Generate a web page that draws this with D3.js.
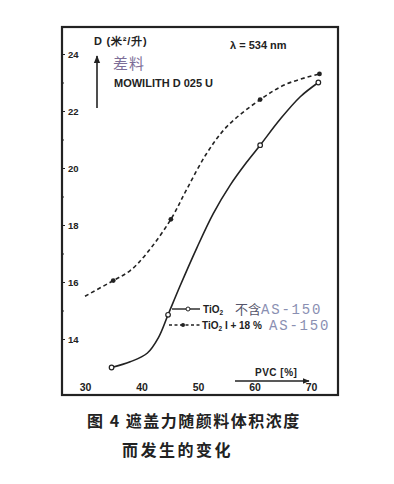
<!DOCTYPE html>
<html>
<head>
<meta charset="utf-8">
<script src="https://cdn.jsdelivr.net/npm/d3@7"></script>
<style>
  body { margin: 0; background: #fff; }
  svg { display: block; }
</style>
</head>
<body>
<svg></svg>
<script>
// measured points (markers), PVC % vs hiding power D
var pvcSolid = [34.7, 44.7, 61, 71.3];
var dSolid = [13.0, 14.85, 20.8, 23.0];
var pvcDashed = [35, 45.2, 61, 71.5];
var dDashed = [16.05, 18.2, 22.4, 23.3];

// curves
var traceSolidX = [34.7, 38, 41, 43, 44.7, 46.8, 49.8, 52.7, 55.7, 58.6, 61, 64.5, 68.1, 71.3];
var traceSolidY = [13.0, 13.2, 13.5, 14.05, 14.85, 15.85, 17.2, 18.4, 19.4, 20.2, 20.8, 21.7, 22.5, 23.0];
var traceDashedX = [30, 35, 38, 40.9, 45.2, 48, 51.5, 55.1, 61, 65.7, 71.5];
var traceDashedY = [15.5, 16.05, 16.4, 17.0, 18.2, 19.25, 20.5, 21.45, 22.4, 22.95, 23.3];

var xTicks = [30, 40, 50, 60, 70];
var yTicks = [14, 16, 18, 20, 22, 24];
var yMinor = [15, 17, 19, 21, 23];

var svg = d3.select("svg")
  .attr("width", 394)
  .attr("height", 484);

var x = d3.scaleLinear().domain([30, 70]).range([85, 311]);
var y = d3.scaleLinear().domain([14, 24]).range([339, 54]);

var ink = "#222";
var labelFont = "'Liberation Sans',Arial,sans-serif";

// frame
svg.append("rect")
  .attr("x", 62).attr("y", 27)
  .attr("width", 276).attr("height", 368)
  .attr("fill", "none")
  .attr("stroke", ink)
  .attr("stroke-width", 2.2);

// y axis: ticks and labels inside the frame
var yAxis = svg.append("g")
  .attr("transform", "translate(62,0)")
  .call(d3.axisRight(y).tickValues(yTicks).tickSize(3).tickPadding(3).tickFormat(d3.format("d")));
yAxis.select(".domain").remove();
yAxis.selectAll("line").attr("stroke", ink);
yAxis.selectAll("text")
  .attr("font-family", labelFont)
  .attr("font-weight", "bold")
  .attr("font-size", 9.5)
  .attr("fill", ink);
svg.append("g")
  .attr("transform", "translate(62,0)")
  .call(d3.axisRight(y).tickValues(yMinor).tickSize(2).tickFormat(""))
  .call(function(g) { g.select(".domain").remove(); g.selectAll("line").attr("stroke", ink); });

// x axis labels
var xAxis = svg.append("g")
  .attr("transform", "translate(0,384)")
  .call(d3.axisBottom(x).tickValues(xTicks).tickSize(0).tickPadding(0).tickFormat(d3.format("d")));
xAxis.select(".domain").remove();
xAxis.selectAll("text")
  .attr("font-family", labelFont)
  .attr("font-weight", "bold")
  .attr("font-size", 10.5)
  .attr("fill", ink);

// arrow head
var defs = svg.append("defs");
defs.append("marker")
  .attr("id", "arr")
  .attr("viewBox", "0 0 10 10")
  .attr("refX", 9).attr("refY", 5)
  .attr("markerWidth", 5).attr("markerHeight", 5)
  .attr("orient", "auto")
  .append("path").attr("d", "M0,1 L10,5 L0,9 Z").attr("fill", ink);

// y axis title and arrow
svg.append("line")
  .attr("x1", 97).attr("y1", 108)
  .attr("x2", 97).attr("y2", 56)
  .attr("stroke", ink).attr("stroke-width", 1.6)
  .attr("marker-end", "url(#arr)");
svg.append("text")
  .attr("x", 94).attr("y", 45)
  .attr("font-family", labelFont)
  .attr("font-weight", "bold")
  .attr("font-size", 11)
  .attr("letter-spacing", 0.8)
  .attr("fill", ink)
  .text("D (米²/升)");
svg.append("text")
  .attr("x", 113).attr("y", 69)
  .attr("font-family", "'Noto Sans CJK SC',sans-serif")
  .attr("font-size", 15)
  .attr("letter-spacing", 1)
  .attr("fill", "#7d6e98")
  .text("差料");
svg.append("text")
  .attr("x", 114).attr("y", 87)
  .attr("font-family", labelFont)
  .attr("font-weight", "bold")
  .attr("font-size", 11)
  .attr("fill", ink)
  .text("MOWILITH D 025 U");
svg.append("text")
  .attr("x", 230).attr("y", 49)
  .attr("font-family", labelFont)
  .attr("font-weight", "bold")
  .attr("font-size", 11)
  .attr("fill", ink)
  .text("λ = 534 nm");

// x axis title and arrow
svg.append("text")
  .attr("x", 255).attr("y", 376)
  .attr("font-family", labelFont)
  .attr("font-weight", "bold")
  .attr("font-size", 10)
  .attr("letter-spacing", 0.5)
  .attr("fill", ink)
  .text("PVC [%]");
svg.append("line")
  .attr("x1", 235).attr("y1", 381)
  .attr("x2", 309).attr("y2", 381)
  .attr("stroke", ink).attr("stroke-width", 1.4)
  .attr("marker-end", "url(#arr)");

// curves
function pairs(xs, ys) {
  return xs.map(function(p, i) { return { p: p, d: ys[i] }; });
}
var solidTrace = pairs(traceSolidX, traceSolidY);
var dashedTrace = pairs(traceDashedX, traceDashedY);
var solidPts = pairs(pvcSolid, dSolid);
var dashedPts = pairs(pvcDashed, dDashed);

var line = d3.line()
  .x(function(e) { return x(e.p); })
  .y(function(e) { return y(e.d); })
  .curve(d3.curveCatmullRom.alpha(0.5));

svg.append("path")
  .datum(solidTrace)
  .attr("d", line)
  .attr("fill", "none")
  .attr("stroke", ink)
  .attr("stroke-width", 1.6);

svg.append("path")
  .datum(dashedTrace)
  .attr("d", line)
  .attr("fill", "none")
  .attr("stroke", ink)
  .attr("stroke-width", 1.6)
  .attr("stroke-dasharray", "4,3");

svg.selectAll(".ptSolid")
  .data(solidPts).enter()
  .append("circle")
  .attr("class", "ptSolid")
  .attr("cx", function(e) { return x(e.p); })
  .attr("cy", function(e) { return y(e.d); })
  .attr("r", 2.3)
  .attr("fill", "#fff")
  .attr("stroke", ink)
  .attr("stroke-width", 1.2);

svg.selectAll(".ptDashed")
  .data(dashedPts).enter()
  .append("circle")
  .attr("class", "ptDashed")
  .attr("cx", function(e) { return x(e.p); })
  .attr("cy", function(e) { return y(e.d); })
  .attr("r", 2.4)
  .attr("fill", ink);

// legend
var lg = svg.append("g");
lg.append("line")
  .attr("x1", 172).attr("y1", 309).attr("x2", 200).attr("y2", 309)
  .attr("stroke", ink).attr("stroke-width", 1.4);
lg.append("circle")
  .attr("cx", 188).attr("cy", 309).attr("r", 2)
  .attr("fill", "#fff").attr("stroke", ink).attr("stroke-width", 1);
var t1 = lg.append("text")
  .attr("x", 203).attr("y", 313)
  .attr("font-family", labelFont)
  .attr("font-weight", "bold")
  .attr("font-size", 10)
  .attr("fill", ink);
t1.append("tspan").text("TiO");
t1.append("tspan").attr("font-size", 6.5).attr("dy", 2).text("2");
lg.append("text")
  .attr("x", 235).attr("y", 314)
  .attr("font-family", "'Noto Sans CJK SC',sans-serif")
  .attr("font-size", 13)
  .attr("fill", "#55556a")
  .text("不含");
lg.append("text")
  .attr("x", 261).attr("y", 314)
  .attr("font-family", "'Liberation Mono',monospace")
  .attr("font-size", 14)
  .attr("letter-spacing", 1.8)
  .attr("fill", "#8a8fb2")
  .text("AS-150");

lg.append("line")
  .attr("x1", 169).attr("y1", 325).attr("x2", 200).attr("y2", 325)
  .attr("stroke", ink).attr("stroke-width", 1.4)
  .attr("stroke-dasharray", "3,2.5");
lg.append("circle")
  .attr("cx", 183).attr("cy", 325).attr("r", 2)
  .attr("fill", ink);
var t2 = lg.append("text")
  .attr("x", 202).attr("y", 329)
  .attr("font-family", labelFont)
  .attr("font-weight", "bold")
  .attr("font-size", 10)
  .attr("fill", ink);
t2.append("tspan").text("TiO");
t2.append("tspan").attr("font-size", 6.5).attr("dy", 2).text("2");
t2.append("tspan").attr("dy", -2).text(" I + 18 %");
lg.append("text")
  .attr("x", 269).attr("y", 330)
  .attr("font-family", "'Liberation Mono',monospace")
  .attr("font-size", 14)
  .attr("letter-spacing", 1.8)
  .attr("fill", "#8a8fb2")
  .text("AS-150");

// caption
svg.append("text")
  .attr("x", 87).attr("y", 427)
  .attr("font-family", "'Noto Sans CJK SC',sans-serif")
  .attr("font-weight", "bold")
  .attr("font-size", 16)
  .attr("letter-spacing", 1.5)
  .attr("fill", ink)
  .text("图 4 遮盖力随颜料体积浓度");
svg.append("text")
  .attr("x", 122).attr("y", 456)
  .attr("font-family", "'Noto Sans CJK SC',sans-serif")
  .attr("font-weight", "bold")
  .attr("font-size", 16)
  .attr("letter-spacing", 2.5)
  .attr("fill", ink)
  .text("而发生的变化");
</script>
</body>
</html>
